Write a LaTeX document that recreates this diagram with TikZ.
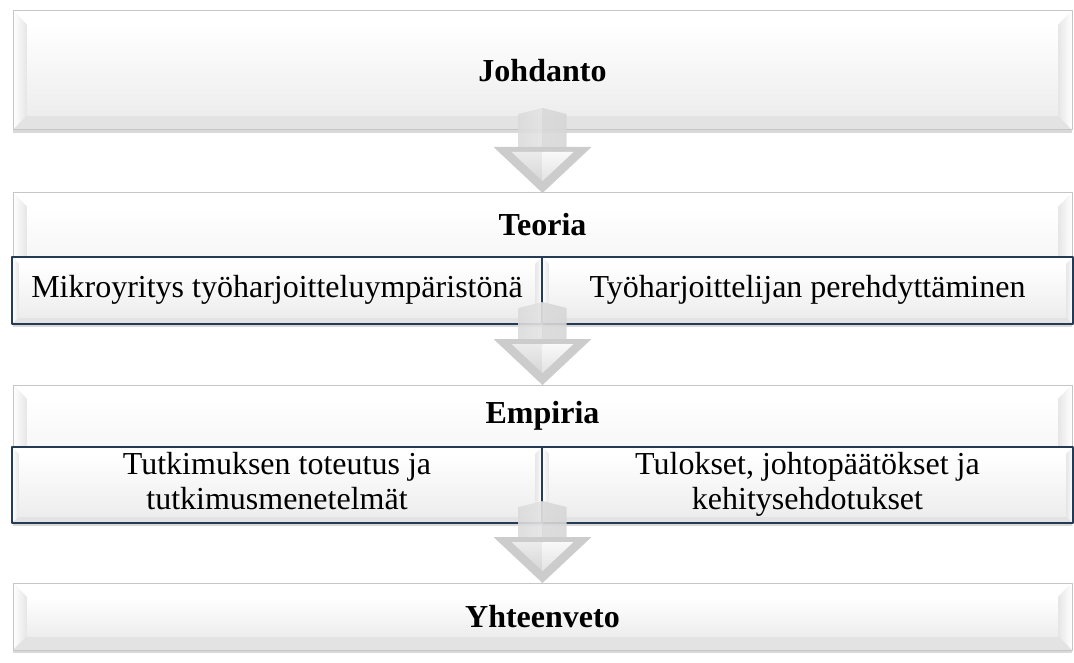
\documentclass[tikz,border=0pt]{standalone}
\usepackage{fontspec}
\setmainfont{Liberation Serif}
\usetikzlibrary{calc,shadows}
\definecolor{navyFrame}{HTML}{243A55}
\def\edgeColor{gray!45}
\def\arrowShaft{24pt}
\def\arrowHead{49pt}
\def\arrowDepth{46pt}

\tikzset{
	bevel/.style={path picture={
		\coordinate (bsw) at (path picture bounding box.south west);
		\coordinate (bne) at (path picture bounding box.north east);
		\coordinate (isw) at ($(bsw)+(#1,#1)$);
		\coordinate (ine) at ($(bne)+(-#1,-#1)$);
		\fill[white] (bsw |- bne) -- (bne) -- (ine) -- (isw |- ine) -- cycle;
		\shade[left color=white, right color=gray!20] (bsw |- bne) -- (isw |- ine) -- (isw) -- (bsw) -- cycle;
		\fill[gray!22] (bsw) -- (isw) -- (ine |- isw) -- (bne |- bsw) -- cycle;
		\shade[left color=gray!20, right color=white] (bne) -- (bne |- bsw) -- (ine |- isw) -- (ine) -- cycle;
		\shade[top color=white, bottom color=gray!14] (isw) rectangle (ine);
	}},
	mainbox/.style={draw=\edgeColor, line width=1pt, bevel=14pt, minimum width=1059pt,
		inner sep=0pt, outer sep=0pt, font=\fontsize{32}{36}\selectfont\bfseries,
		drop shadow={shadow xshift=0pt, shadow yshift=-3pt, opacity=0.3}},
	subbox/.style={draw=navyFrame, line width=1.6pt, bevel=7pt, inner sep=0pt, outer sep=0pt,
		align=center, font=\fontsize{32}{35}\selectfont},
	headlabel/.style={font=\fontsize{32}{36}\selectfont\bfseries, inner sep=0pt},
}

\newcommand{\blockarrow}[2]{
	\coordinate (tip) at (#2.north);
	\coordinate (htop) at ($(tip)+(0,\arrowDepth)$);
	\coordinate (stop) at ($(#1.south)+(0,22pt)$);
	\begin{scope}[opacity=0.9]
		\shade[left color=gray!28, middle color=white, right color=gray!22] (htop) -- ++(-\arrowShaft,0) -- ($(stop)+(-\arrowShaft,-6pt)$) -- (stop) -- cycle;
		\shade[left color=gray!30, middle color=white, right color=gray!32] (htop) -- ++(\arrowShaft,0) -- ($(stop)+(\arrowShaft,-6pt)$) -- (stop) -- cycle;
	\end{scope}
	\fill[gray!40] ($(htop)+(-\arrowHead,0)$) -- ($(htop)+(\arrowHead,0)$) -- (tip) -- cycle;
	\shade[top color=gray!15, bottom color=gray!32] ($(htop)+(-31pt,-5pt)$) -- ($(htop)+(0,-5pt)$) -- ($(tip)+(0,12pt)$) -- cycle;
	\shade[top color=gray!5, bottom color=gray!22] ($(htop)+(0,-5pt)$) -- ($(htop)+(31pt,-5pt)$) -- ($(tip)+(0,12pt)$) -- cycle;
}

\begin{document}
\begin{tikzpicture}[x=1pt, y=-1pt, line cap=round, line join=round]
	\useasboundingbox (0,0) rectangle (1074,663);
	\node[mainbox, minimum height=119pt] (johdanto) at (542.5,70.5) {Johdanto};
	\node[mainbox, minimum height=131pt] (teoria) at (542.5,258.5) {};
	\node[headlabel] (teoriaLabel) at (542.5,225) {Teoria};
	\node[subbox, minimum width=530pt, minimum height=67pt] (mikro) at (277,290.5) {\strut Mikroyritys työharjoitteluympäristönä};
	\node[subbox, minimum width=531pt, minimum height=67pt] (perehdytys) at (807.5,290.5) {\strut Työharjoittelijan perehdyttäminen};
	\node[mainbox, minimum height=138pt] (empiria) at (542.5,454) {};
	\node[headlabel] (empiriaLabel) at (542.5,416) {Empiria};
	\node[subbox, minimum width=530pt, minimum height=76pt] (toteutus) at (277,485) {\strut Tutkimuksen toteutus ja\\tutkimusmenetelmät\strut};
	\node[subbox, minimum width=531pt, minimum height=76pt] (tulokset) at (807.5,485) {\strut Tulokset, johtopäätökset ja\\kehitysehdotukset\strut};
	\node[mainbox, minimum height=67pt] (yhteenveto) at (542.5,616.5) {Yhteenveto};
	\blockarrow{johdanto}{teoria}
	\blockarrow{teoria}{empiria}
	\blockarrow{empiria}{yhteenveto}
\end{tikzpicture}
\end{document}
